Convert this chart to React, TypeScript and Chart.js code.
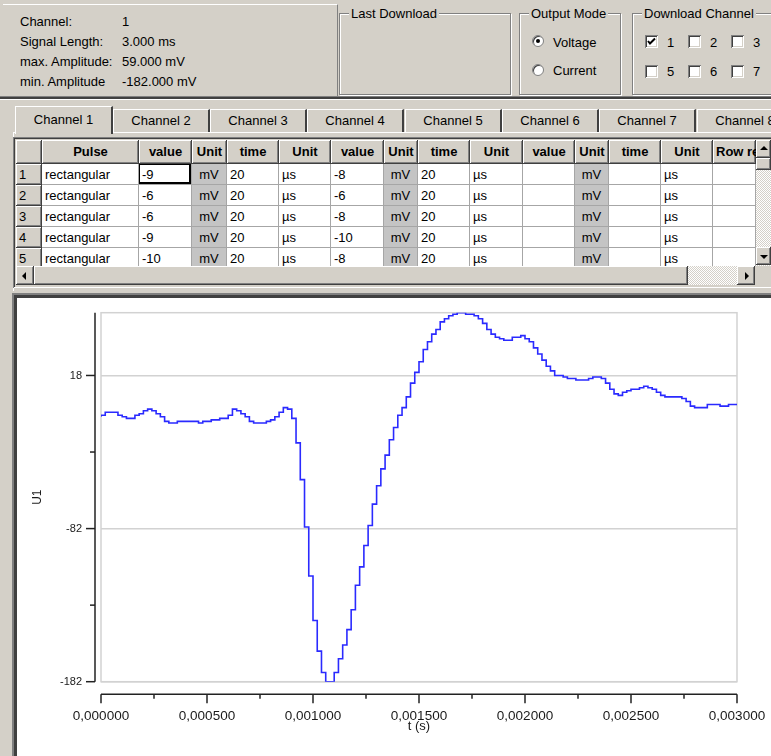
import React, { useEffect, useRef } from 'react';
import { Chart, registerables } from 'chart.js';

Chart.register(...registerables);

// ---------------- chart data ----------------
const sampleStepSeconds = 0.00002; // 20 µs per pulse
const amplitudeMv = [
  -9, -8, -6, -6, -6, -8, -9, -10, -10, -8,
  -7, -5, -4, -5, -7, -9, -12, -13, -13, -12,
  -12, -12, -12, -12, -13, -12, -12, -11, -11, -10,
  -10, -8, -4, -5, -7, -9, -12, -13, -13, -13,
  -12, -11, -9, -6, -3, -4, -10, -26, -50, -81,
  -113, -142, -162, -176, -182, -182, -176, -167, -158, -148,
  -135, -119, -107, -93, -80, -66, -54, -43, -34, -24,
  -16, -8, -3, 4, 13, 20, 27, 35, 40, 45,
  48, 53, 55, 57, 58, 59, 59, 58, 58, 57,
  55, 52, 48, 45, 43, 42, 41, 41, 43, 43,
  44, 42, 40, 36, 32, 28, 24, 21, 18, 18,
  17, 16, 16, 15, 15, 15, 16, 17, 17, 16,
  13, 9, 6, 5, 7, 8, 9, 9, 10, 11,
  10, 9, 7, 5, 4, 4, 4, 4, 3, 1,
  -2, -3, -3, -3, -1, -1, -1, -2, -2, -1,
];
const xTickValues = [0, 0.00025, 0.0005, 0.00075, 0.001, 0.00125, 0.0015, 0.00175, 0.002, 0.00225, 0.0025, 0.00275, 0.003];
const xTickLabels = ['0,000000', '', '0,000500', '', '0,001000', '', '0,001500', '', '0,002000', '', '0,002500', '', '0,003000'];
const yTickValues = [-182, -132, -82, -32, 18];
const yTickLabels = ['-182', '', '-82', '', '18'];
const yAxisMin = -182;
const yAxisMax = 59;
const xAxisMin = 0;
const xAxisMax = 0.003;
const xAxisTitle = 't (s)';
const yAxisTitle = 'U1';

// ---------------- form texts ----------------
const infoLabels = ['Channel:', 'Signal Length:', 'max. Amplitude:', 'min. Amplitude'];
const infoValues = ['1', '3.000 ms', '59.000 mV', '-182.000 mV'];
const tabLabels = ['Channel 1', 'Channel 2', 'Channel 3', 'Channel 4', 'Channel 5', 'Channel 6', 'Channel 7', 'Channel 8'];
const gridHeaders = ['', 'Pulse', 'value', 'Unit', 'time', 'Unit', 'value', 'Unit', 'time', 'Unit', 'value', 'Unit', 'time', 'Unit', 'Row repeat'];
const rowNumbers = ['1', '2', '3', '4', '5'];
const pulseTypes = ['rectangular', 'rectangular', 'rectangular', 'rectangular', 'rectangular'];
const pulse1Values = ['-9', '-6', '-6', '-9', '-10'];
const pulse1Times = ['20', '20', '20', '20', '20'];
const pulse2Values = ['-8', '-6', '-8', '-10', '-8'];
const pulse2Times = ['20', '20', '20', '20', '20'];
const downloadChannels = ['1', '2', '3', '5', '6', '7'];

const BG = '#d4d0c8';
const FONT = '"Liberation Sans", Arial, sans-serif';
const RAISED = 'inset -1px -1px 0 #404040, inset 1px 1px 0 #ffffff, inset -2px -2px 0 #808080';
const SUNKEN = 'inset 1px 1px 0 #808080, inset -1px -1px 0 #ffffff, inset 2px 2px 0 #404040, inset -2px -2px 0 #d4d0c8';
const colEdges = [16, 42, 139, 192, 227, 279, 331, 384, 418, 470, 523, 575, 609, 661, 713, 756];
const grayCols = [3, 7, 11];

function SignalChart() {
  const ref = useRef<HTMLCanvasElement | null>(null);
  useEffect(() => {
    if (!ref.current) return;
    const points = amplitudeMv.map((v, i) => ({ x: i * sampleStepSeconds, y: v }));
    points.push({ x: amplitudeMv.length * sampleStepSeconds, y: amplitudeMv[amplitudeMv.length - 1] });

    const framePlugin = {
      id: 'framePlugin',
      beforeDatasetsDraw(chart: any) {
        const { ctx, chartArea: a } = chart;
        ctx.save();
        ctx.strokeStyle = '#d2d2d2';
        ctx.lineWidth = 1.5;
        ctx.strokeRect(a.left, a.top, a.right - a.left, a.bottom - a.top);
        ctx.restore();
      },
      afterDraw(chart: any) {
        const { ctx, chartArea: a, scales } = chart;
        const xs = scales.x;
        const ys = scales.y;
        ctx.save();
        ctx.strokeStyle = '#222';
        ctx.lineWidth = 1.5;
        const line = (x1: number, y1: number, x2: number, y2: number) => {
          ctx.beginPath();
          ctx.moveTo(x1, y1);
          ctx.lineTo(x2, y2);
          ctx.stroke();
        };
        const ax = a.left - 6;
        line(ax, a.top, ax, a.bottom);
        yTickValues.forEach((v, i) => {
          const py = ys.getPixelForValue(v);
          line(ax - (yTickLabels[i] ? 9 : 5), py, ax, py);
        });
        const ay = a.bottom + 12.5;
        line(a.left, ay, a.right, ay);
        xTickValues.forEach((v, i) => {
          const px = xs.getPixelForValue(v);
          line(px, ay, px, ay + (xTickLabels[i] ? 9 : 4.5));
        });
        ctx.restore();
      },
    };

    const chart = new Chart(ref.current, {
      type: 'line',
      data: {
        datasets: [
          {
            data: points,
            borderColor: '#2a2aff',
            borderWidth: 1.6,
            pointRadius: 0,
            stepped: 'after',
            fill: false,
          },
        ],
      },
      options: {
        animation: false,
        responsive: false,
        devicePixelRatio: 1,
        layout: { padding: { left: 0, top: 14.7, right: 34, bottom: 0 } },
        plugins: { legend: { display: false }, tooltip: { enabled: false } },
        scales: {
          x: {
            type: 'linear',
            min: xAxisMin,
            max: xAxisMax,
            afterBuildTicks: (s: any) => {
              s.ticks = xTickValues.map((value) => ({ value }));
            },
            afterFit: (s: any) => {
              s.height = 74.3;
              s.paddingLeft = 0;
              s.paddingRight = 0;
              s.paddingTop = 0;
              s.paddingBottom = 0;
            },
            grid: { display: false, drawTicks: false },
            border: { display: false },
            ticks: {
              autoSkip: false,
              maxRotation: 0,
              padding: 28.3,
              color: '#1a1a1a',
              font: { family: FONT, size: 13.5, lineHeight: 1 },
              callback: (_v: any, i: number) => xTickLabels[i],
            },
            title: {
              display: true,
              text: xAxisTitle,
              color: '#1a1a1a',
              font: { family: FONT, size: 13, lineHeight: 1 },
              padding: { top: 0, bottom: 22.8 },
            },
          },
          y: {
            type: 'linear',
            min: yAxisMin,
            max: yAxisMax,
            afterBuildTicks: (s: any) => {
              s.ticks = yTickValues.map((value) => ({ value }));
            },
            afterFit: (s: any) => {
              s.width = 84;
              s.paddingLeft = 0;
              s.paddingRight = 0;
              s.paddingTop = 0;
              s.paddingBottom = 0;
            },
            grid: {
              drawTicks: false,
              lineWidth: 1.5,
              color: (c: any) => (yTickLabels[c.index] ? '#d2d2d2' : 'rgba(0,0,0,0)'),
            },
            border: { display: false },
            ticks: {
              autoSkip: false,
              padding: 19,
              color: '#1a1a1a',
              font: { family: FONT, size: 11 },
              callback: (_v: any, i: number) => yTickLabels[i],
            },
            title: {
              display: true,
              text: yAxisTitle,
              color: '#1a1a1a',
              font: { family: FONT, size: 12, lineHeight: 1.2 },
              padding: { top: 13.8, bottom: 0 },
            },
          },
        },
      } as any,
      plugins: [framePlugin],
    });
    return () => chart.destroy();
  }, []);
  return <canvas ref={ref} width={754} height={458} style={{ display: 'block' }} />;
}

const abs = (x: number, y: number, w?: number, h?: number): React.CSSProperties => ({
  position: 'absolute',
  left: x,
  top: y,
  width: w,
  height: h,
});

function Text({ x, y, children, bold }: { x: number; y: number; children: React.ReactNode; bold?: boolean }) {
  return (
    <div style={{ ...abs(x, y), lineHeight: '15px', whiteSpace: 'nowrap', fontWeight: bold ? 'bold' : 'normal' }}>
      {children}
    </div>
  );
}

function GroupBox({ x, y, w, h, title }: { x: number; y: number; w: number; h: number; title: string }) {
  return (
    <div
      style={{
        ...abs(x, y, w, h),
        boxSizing: 'border-box',
        border: '1px solid #808080',
        boxShadow: '1px 1px 0 #ffffff, inset 1px 1px 0 #ffffff',
      }}
    >
      <div style={{ position: 'absolute', left: 9, top: -8, background: BG, padding: '0 2px', lineHeight: '15px', whiteSpace: 'nowrap' }}>
        {title}
      </div>
    </div>
  );
}

function Radio({ x, y, checked }: { x: number; y: number; checked?: boolean }) {
  return (
    <div
      style={{
        ...abs(x, y, 12, 12),
        borderRadius: '50%',
        background: '#fff',
        boxSizing: 'border-box',
        border: '1px solid #808080',
        boxShadow: 'inset 1px 1px 0 #404040',
      }}
    >
      {checked && <div style={{ ...abs(3, 3, 4, 4), borderRadius: '50%', background: '#000' }} />}
    </div>
  );
}

function Check({ x, y, checked }: { x: number; y: number; checked?: boolean }) {
  return (
    <div style={{ ...abs(x, y, 13, 13), background: '#fff', boxShadow: SUNKEN }}>
      {checked && (
        <svg width={13} height={13} style={{ position: 'absolute', left: 0, top: 0 }}>
          <polyline points="3,6 5,8.5 10,3.5" fill="none" stroke="#000" strokeWidth={2} />
        </svg>
      )}
    </div>
  );
}

function ArrowBtn({ x, y, w, h, dir }: { x: number; y: number; w: number; h: number; dir: 'up' | 'down' | 'left' | 'right' }) {
  const tri: React.CSSProperties = { position: 'absolute', width: 0, height: 0 };
  if (dir === 'up') Object.assign(tri, { left: w / 2 - 4, top: h / 2 - 3, borderLeft: '4px solid transparent', borderRight: '4px solid transparent', borderBottom: '4px solid #000' });
  if (dir === 'down') Object.assign(tri, { left: w / 2 - 4, top: h / 2 - 1, borderLeft: '4px solid transparent', borderRight: '4px solid transparent', borderTop: '4px solid #000' });
  if (dir === 'left') Object.assign(tri, { left: w / 2 - 3, top: h / 2 - 4, borderTop: '4px solid transparent', borderBottom: '4px solid transparent', borderRight: '4px solid #000' });
  if (dir === 'right') Object.assign(tri, { left: w / 2 - 1, top: h / 2 - 4, borderTop: '4px solid transparent', borderBottom: '4px solid transparent', borderLeft: '4px solid #000' });
  return (
    <div style={{ ...abs(x, y, w, h), background: BG, boxShadow: RAISED }}>
      <div style={tri} />
    </div>
  );
}

const dotted: React.CSSProperties = {
  background: 'repeating-conic-gradient(#ffffff 0 25%, #d4d0c8 0 50%) 0 0 / 2px 2px',
};

function Grid() {
  const rows = rowNumbers.map((n, r) => [
    n,
    pulseTypes[r],
    pulse1Values[r],
    'mV',
    pulse1Times[r],
    'µs',
    pulse2Values[r],
    'mV',
    pulse2Times[r],
    'µs',
    '',
    'mV',
    '',
    'µs',
    '',
  ]);
  const headerTop = 140;
  const headerH = 24;
  const rowH = 21;
  return (
    <div style={{ ...abs(13, 137, 760, 151), boxShadow: SUNKEN, overflow: 'hidden' }}>
      <div style={{ ...abs(3, 3, 740, 126), overflow: 'hidden', background: '#fff' }}>
        {gridHeaders.map((hd, c) => {
          const x = colEdges[c] - 16;
          const w = colEdges[c + 1] - colEdges[c];
          return (
            <div
              key={'h' + c}
              style={{
                ...abs(x, headerTop - 140, w, headerH),
                background: BG,
                boxShadow: RAISED,
                fontWeight: 'bold',
                textAlign: c === 14 ? 'left' : 'center',
                paddingLeft: c === 14 ? 3 : 0,
                boxSizing: 'border-box',
                lineHeight: headerH + 'px',
                whiteSpace: 'nowrap',
                overflow: 'hidden',
              }}
            >
              {hd}
            </div>
          );
        })}
        {rows.map((cells, r) =>
          cells.map((cell, c) => {
            const x = colEdges[c] - 16;
            const w = colEdges[c + 1] - colEdges[c];
            const y = headerTop - 140 + headerH + r * rowH;
            const isHdr = c === 0;
            const isGray = grayCols.includes(c);
            const selected = r === 0 && c === 2;
            return (
              <div
                key={r + '-' + c}
                style={{
                  ...abs(x, y, w, rowH),
                  boxSizing: 'border-box',
                  background: isHdr ? BG : isGray ? '#c4c4c4' : '#fff',
                  boxShadow: isHdr ? RAISED : selected ? 'inset 0 0 0 1px #000, inset -1px -1px 0 1px #000' : 'none',
                  borderRight: isHdr ? 'none' : '1px solid #a6a6a6',
                  borderBottom: isHdr ? 'none' : '1px solid #a6a6a6',
                  paddingLeft: isGray ? 0 : 3,
                  textAlign: isGray ? 'center' : 'left',
                  lineHeight: rowH + 'px',
                  whiteSpace: 'nowrap',
                  overflow: 'hidden',
                }}
              >
                {cell}
              </div>
            );
          })
        )}
      </div>
      {/* vertical scrollbar */}
      <div style={{ ...abs(743, 3, 15, 126), ...dotted }} />
      <ArrowBtn x={743} y={3} w={15} h={18} dir="up" />
      <div style={{ ...abs(743, 21, 15, 12), background: BG, boxShadow: RAISED }} />
      <ArrowBtn x={743} y={110} w={15} h={18} dir="down" />
      {/* horizontal scrollbar */}
      <div style={{ ...abs(3, 129, 740, 19), ...dotted }} />
      <ArrowBtn x={3} y={129} w={18} h={19} dir="left" />
      <div style={{ ...abs(21, 129, 654, 19), background: BG, boxShadow: RAISED }} />
      <ArrowBtn x={724} y={129} w={18} h={19} dir="right" />
      <div style={{ ...abs(742, 129, 20, 19), background: BG }} />
    </div>
  );
}

export default function App() {
  const tabLefts = [15, 113, 210, 307, 405, 502, 599, 697];
  const cbLefts = [645, 688, 731];
  return (
    <div
      style={{
        position: 'fixed',
        left: 0,
        top: 0,
        width: 771,
        height: 756,
        overflow: 'hidden',
        background: BG,
        fontFamily: FONT,
        fontSize: 13,
        color: '#000',
      }}
    >
      {/* info panel */}
      <div style={{ ...abs(3, 4, 334, 92), borderTop: '1px solid #fff', borderRight: '1px solid #808080' }} />
      {infoLabels.map((t, i) => (
        <Text key={'l' + i} x={20} y={[14, 34, 54, 74][i]}>
          {t}
        </Text>
      ))}
      {infoValues.map((t, i) => (
        <Text key={'v' + i} x={122} y={[14, 34, 54, 74][i]}>
          {t}
        </Text>
      ))}

      <GroupBox x={339} y={13} w={172} h={82} title="Last Download" />
      <GroupBox x={519} y={13} w={102} h={82} title="Output Mode" />
      <Radio x={532} y={35} checked />
      <Text x={553} y={34.5}>Voltage</Text>
      <Radio x={532} y={64} />
      <Text x={553} y={63}>Current</Text>
      <GroupBox x={632} y={13} w={170} h={82} title="Download Channel" />
      {downloadChannels.map((ch, i) => {
        const col = i % 3;
        const row = Math.floor(i / 3);
        return (
          <React.Fragment key={'cb' + ch}>
            <Check x={cbLefts[col]} y={row === 0 ? 35 : 65} checked={ch === '1'} />
            <Text x={cbLefts[col] + 22} y={row === 0 ? 34.5 : 64}>
              {ch}
            </Text>
          </React.Fragment>
        );
      })}

      {/* splitter */}
      <div style={{ ...abs(0, 96, 771, 1), background: '#808080' }} />
      <div style={{ ...abs(0, 97, 771, 2), background: '#404040' }} />
      <div style={{ ...abs(0, 99, 771, 1), background: '#ffffff' }} />

      {/* tab page */}
      <div style={{ ...abs(13, 132, 760, 158), borderTop: '1px solid #fff', borderLeft: '1px solid #fff' }} />
      {tabLabels.map((t, i) =>
        i === 0 ? null : (
          <div
            key={t}
            style={{
              ...abs(tabLefts[i], 109, 97, 23),
              boxSizing: 'border-box',
              borderTop: '1px solid #fff',
              borderLeft: '1px solid #fff',
              borderRight: '2px solid #404040',
              textAlign: 'center',
              lineHeight: '21px',
              whiteSpace: 'nowrap',
            }}
          >
            {t}
          </div>
        )
      )}
      <div
        style={{
          ...abs(tabLefts[0], 106, 98, 28),
          boxSizing: 'border-box',
          background: BG,
          borderTop: '1px solid #fff',
          borderLeft: '1px solid #fff',
          borderRight: '2px solid #404040',
          textAlign: 'center',
          lineHeight: '26px',
        }}
      >
        {tabLabels[0]}
      </div>

      <Grid />

      {/* chart panel */}
      <div style={{ ...abs(12, 293, 759, 463), borderTop: '2px solid #808080', borderLeft: '2px solid #808080', boxSizing: 'border-box' }}>
        <div style={{ ...abs(0, 0, 757, 461), borderTop: '3px solid #404040', borderLeft: '3px solid #404040', boxSizing: 'border-box', background: '#fff' }}>
          <SignalChart />
        </div>
      </div>
    </div>
  );
}
